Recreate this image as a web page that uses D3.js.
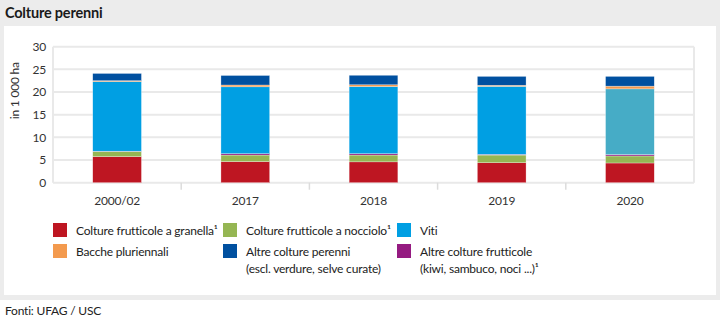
<!DOCTYPE html>
<html>
<head>
<meta charset="utf-8">
<script src="https://cdn.jsdelivr.net/npm/d3@7"></script>
<style>
  body { margin: 0; background: #fff; }
  svg { display: block; font-family: Lato, sans-serif; }
  svg text { letter-spacing: -0.2px; }
</style>
</head>
<body>
<svg id="chart" width="720" height="324"></svg>
<script>
// data (in 1 000 ha)
var years = ["2000/02", "2017", "2018", "2019", "2020"];
var granella = [5.75, 4.65, 4.6, 4.4, 4.35];
var nocciolo = [1.15, 1.45, 1.5, 1.7, 1.55];
var altreFrutticole = [0.05, 0.3, 0.3, 0.15, 0.3];
var viti = [15.35, 14.75, 14.8, 15.0, 14.5];
var bacche = [0.2, 0.4, 0.4, 0.25, 0.6];
var altrePerenni = [1.6, 2.1, 2.1, 1.95, 2.15];
var yTicks = [0, 5, 10, 15, 20, 25, 30];

var series = [
  {key: "granella", values: granella, color: "#be1622"},
  {key: "nocciolo", values: nocciolo, color: "#95b653"},
  {key: "altreFrutticole", values: altreFrutticole, color: "#951b81"},
  {key: "viti", values: viti, color: "#009fe3"},
  {key: "bacche", values: bacche, color: "#f39a4e"},
  {key: "altrePerenni", values: altrePerenni, color: "#0050a0"}
];

var svg = d3.select("#chart");
var fontSize = "12px";

// background frame
svg.append("rect").attr("x", 0).attr("y", 0).attr("width", 720).attr("height", 300).attr("fill", "#ececec");
svg.append("rect").attr("x", 4).attr("y", 26).attr("width", 712).attr("height", 269).attr("fill", "#fff");

svg.append("text")
  .attr("x", 5).attr("y", 18)
  .style("font-size", "14.5px").style("font-weight", "bold").attr("fill", "#1a1a1a")
  .text("Colture perenni");

svg.append("text")
  .attr("x", 5).attr("y", 315)
  .style("font-size", fontSize).attr("fill", "#222")
  .text("Fonti: UFAG / USC");

var margin = {left: 53, right: 694, top: 46.7, bottom: 182.7};

var x = d3.scaleBand().domain(years).range([margin.left, margin.right]).paddingInner(0.62).paddingOuter(0.31);
var y = d3.scaleLinear().domain([0, 30]).range([margin.bottom, margin.top]);

// gridlines
var grid = svg.append("g");
grid.selectAll("line.h").data(yTicks).enter().append("line")
  .attr("x1", margin.left).attr("x2", margin.right)
  .attr("y1", function(d) { return y(d); }).attr("y2", function(d) { return y(d); })
  .attr("stroke", "#e9e9e9").attr("stroke-width", 2);
[margin.left, margin.right].forEach(function(px) {
  grid.append("line").attr("x1", px).attr("x2", px).attr("y1", margin.top).attr("y2", margin.bottom)
    .attr("stroke", "#e9e9e9").attr("stroke-width", 2);
});

// y axis labels
var yAxis = svg.append("g")
  .attr("transform", "translate(" + (margin.left - 7) + ",0)")
  .call(d3.axisLeft(y).tickValues(yTicks).tickSize(0).tickPadding(0));
yAxis.select(".domain").remove();
yAxis.selectAll("text").style("font-size", fontSize).style("font-family", "Lato").attr("fill", "#333");

svg.append("text")
  .attr("transform", "translate(19," + ((margin.top + margin.bottom) / 2 - 24) + ") rotate(-90)")
  .style("text-anchor", "middle").style("font-size", fontSize).attr("fill", "#333")
  .text("in 1 000 ha");

// x axis
var xAxis = svg.append("g")
  .attr("transform", "translate(0," + margin.bottom + ")")
  .call(d3.axisBottom(x).tickSize(0).tickPadding(14));
xAxis.select(".domain").remove();
xAxis.selectAll("text").style("font-size", fontSize).style("font-family", "Lato").attr("fill", "#333");
xAxis.selectAll("line.sep").data(years.slice(1)).enter().append("line")
  .attr("class", "sep")
  .attr("x1", function(d) { return x(d) - (x.step() - x.bandwidth()) / 2; })
  .attr("x2", function(d) { return x(d) - (x.step() - x.bandwidth()) / 2; })
  .attr("y1", 0).attr("y2", 7)
  .attr("stroke", "#dcdcdc").attr("stroke-width", 1.5);

// stacked bars
var rows = years.map(function(yr, i) {
  var r = {year: yr};
  series.forEach(function(s) { r[s.key] = s.values[i]; });
  return r;
});
var stack = d3.stack().keys(series.map(function(s) { return s.key; }));
var stacked = stack(rows);

svg.append("g").selectAll("g").data(stacked).enter().append("g")
  .each(function(layer, li) {
    d3.select(this).selectAll("rect").data(layer).enter().append("rect")
      .attr("x", function(d) { return x(d.data.year); })
      .attr("width", x.bandwidth())
      .attr("y", function(d) { return y(d[1]); })
      .attr("height", function(d) { return y(d[0]) - y(d[1]); })
      .attr("fill", function(d) {
        // 2020 vine segment shown in the lighter highlighted tone
        if (series[li].key === "viti" && d.data.year === "2020") return "#46acc6";
        return series[li].color;
      })
      .attr("stroke", "#fff").attr("stroke-width", 0.5).attr("stroke-opacity", 0.6);
  });

// legend
var legendItems = [
  {color: "#be1622", lines: ["Colture frutticole a granella¹"], col: 0, row: 0},
  {color: "#95b653", lines: ["Colture frutticole a nocciolo¹"], col: 1, row: 0},
  {color: "#009fe3", lines: ["Viti"], col: 2, row: 0},
  {color: "#f39a4e", lines: ["Bacche pluriennali"], col: 0, row: 1},
  {color: "#0050a0", lines: ["Altre colture perenni", "(escl. verdure, selve curate)"], col: 1, row: 1},
  {color: "#951b81", lines: ["Altre colture frutticole", "(kiwi, sambuco, noci ...)¹"], col: 2, row: 1}
];
var colX = [53, 223, 397];
var rowY = [223, 244];
var legend = svg.append("g");
legendItems.forEach(function(it) {
  var g = legend.append("g").attr("transform", "translate(" + colX[it.col] + "," + rowY[it.row] + ")");
  g.append("rect").attr("width", 14).attr("height", 14).attr("fill", it.color);
  var t = g.append("text").attr("x", 23).attr("y", 11.5).style("font-size", fontSize).attr("fill", "#222");
  it.lines.forEach(function(l, i) {
    t.append("tspan").attr("x", 23).attr("dy", i === 0 ? 0 : 17).text(l);
  });
});
</script>
</body>
</html>
